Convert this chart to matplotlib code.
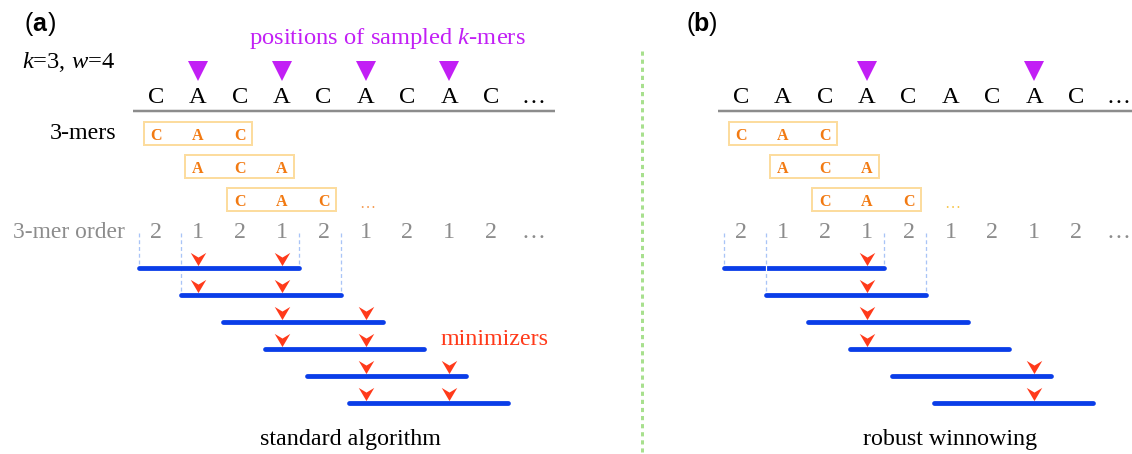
import matplotlib
matplotlib.use("Agg")
import matplotlib.pyplot as plt
from matplotlib.path import Path
from matplotlib.patches import Rectangle

# ---------------- data ----------------
sequence = ["C", "A", "C", "A", "C", "A", "C", "A", "C"]
kmer_order = [2, 1, 2, 1, 2, 1, 2, 1, 2]
kmer_rows = [["C", "A", "C"], ["A", "C", "A"], ["C", "A", "C"]]
k = 3
w = 4
n_windows = 6
sampled_a = [1, 3, 5, 7]
sampled_b = [3, 7]
minimizers_a = [[1, 3], [1, 3], [3, 5], [3, 5], [5, 7], [5, 7]]
minimizers_b = [[3], [3], [3], [3], [7], [7]]
panel_labels = ["a", "b"]
captions = ["standard algorithm", "robust winnowing"]

# ---------------- style ----------------
plt.rcParams['mathtext.fontset'] = 'custom'
plt.rcParams['mathtext.rm'] = 'Liberation Serif'
plt.rcParams['mathtext.it'] = 'Liberation Serif:italic'
SERIF = 'Liberation Serif'
SANS = 'Liberation Sans'
PX = 0.72  # points per pixel at dpi 100

PURPLE = '#c21ff5'
ORANGE = '#f27a12'
BOXEDGE = '#fcdc9e'
GRAY = '#8c8c8c'
BLUE = '#0a3de8'
RED = '#ff3a1a'
DASH = '#a9c4f7'
GREEN = '#a8e08e'
FS = 24

fig = plt.figure(figsize=(11.32, 4.54), dpi=100)
ax = fig.add_axes([0, 0, 1, 1])
ax.set_xlim(0, 1132)
ax.set_ylim(454, 0)
ax.axis('off')

X0 = [156, 741]
DX = 41.9

chev = Path([(-1, 0.85), (0, 0.25), (1, 0.85), (0, -0.85), (-1, 0.85)],
            [Path.MOVETO, Path.LINETO, Path.LINETO, Path.LINETO, Path.CLOSEPOLY])

sampled_all = [sampled_a, sampled_b]
mins_all = [minimizers_a, minimizers_b]

for p in range(2):
    x0 = X0[p]
    xp = lambda i: x0 + i * DX

    # sequence
    for i, ch in enumerate(sequence):
        ax.text(xp(i), 103, ch, ha='center', va='baseline', family=SERIF,
                fontsize=24.5 * PX, color='black')
    ax.text(xp(len(sequence)), 103, "…", ha='center', va='baseline', family=SERIF,
            fontsize=FS * PX, color='black')
    ax.plot([xp(0) - 23, xp(len(sequence)) + 22], [111, 111], color=GRAY,
            lw=2.5 * PX, solid_capstyle='butt')

    # sampled positions
    ax.plot([xp(i) for i in sampled_all[p]], [71] * len(sampled_all[p]),
            linestyle='none', marker='v', ms=20 * PX, color=PURPLE, mew=0)

    # k-mer boxes
    for j, row in enumerate(kmer_rows):
        yc = 133.5 + j * 33
        left = xp(j) - 12.5
        right = xp(j + k - 1) + 12
        ax.add_patch(Rectangle((left, yc - 11.5), right - left, 23, fill=False,
                               edgecolor=BOXEDGE, lw=2 * PX))
        for m, ch in enumerate(row):
            ax.text(xp(j + m), yc + 6.5, ch, ha='center', va='baseline', family=SERIF,
                    fontsize=16 * PX, color=ORANGE, fontweight='bold')
    ax.text(xp(5) + 2, 208, "…", ha='center', va='baseline', family=SERIF,
            fontsize=16 * PX, color=['#f59a50', '#f7c64a'][p])

    # k-mer order
    for i, o in enumerate(kmer_order):
        ax.text(xp(i), 238.5, str(o), ha='center', va='baseline', family=SERIF,
                fontsize=FS * PX, color=GRAY)
    ax.text(xp(len(kmer_order)), 238.5, "…", ha='center', va='baseline', family=SERIF,
            fontsize=FS * PX, color=GRAY)

    # windows
    for wi in range(n_windows):
        yb = 268 + wi * 27
        xs, xe = xp(wi) - 17, xp(wi + w - 1) + 17
        if wi < 2:
            for xx in (xs, xe):
                ax.plot([xx, xx], [233, yb], color=DASH, lw=1.3 * PX,
                        dashes=(3, 2.2), zorder=1)
        ax.plot([xs, xe], [yb, yb], color=BLUE, lw=4.8 * PX,
                solid_capstyle='round', zorder=2)
        if p == 1 and wi == 0:
            xx = xp(1) - 17
            ax.plot([xx, xx], [yb - 3, yb + 3], color='white', lw=1.2 * PX, zorder=3)
        ms = mins_all[p][wi]
        ax.plot([xp(m) for m in ms], [yb - 9] * len(ms), linestyle='none',
                marker=chev, ms=15.5 * PX, color=RED, mew=0, zorder=4)

    ax.text(350 + p * 600, 445, captions[p], ha='center', va='baseline', family=SERIF,
            fontsize=FS * PX, color='black')

# panel labels
for p, lx in enumerate([25, 686]):
    ax.text(lx, 31, "(", ha='left', va='baseline', family=SANS, fontsize=25 * PX)
    ax.text(lx + 7.5, 31, panel_labels[p], ha='left', va='baseline', family=SANS,
            fontweight='bold', fontsize=25 * PX)
    ax.text(lx + 22.5, 31, ")", ha='left', va='baseline', family=SANS, fontsize=25 * PX)

# left labels
ax.text(22, 68, r"$k$=3, $w$=4", ha='left', va='baseline', family=SERIF,
        fontsize=24.5 * PX, color='black')
ax.text(387, 44, r"positions of sampled $k$-mers", ha='center', va='baseline',
        family=SERIF, fontsize=24.5 * PX, color=PURPLE)
ax.text(116, 139, "3-mers", ha='right', va='baseline', family=SERIF,
        fontsize=FS * PX, color='black')
ax.text(125, 238.5, "3-mer order", ha='right', va='baseline', family=SERIF,
        fontsize=23.5 * PX, color=GRAY)
ax.text(441, 345, "minimizers", ha='left', va='baseline', family=SERIF,
        fontsize=FS * PX, color=RED)

# divider
ax.plot([642, 642], [51, 452], color=GREEN, lw=3 * PX, dashes=(1.4, 1.3),
        solid_capstyle='butt', dash_capstyle='butt')

fig.savefig("out.png", dpi=100)
